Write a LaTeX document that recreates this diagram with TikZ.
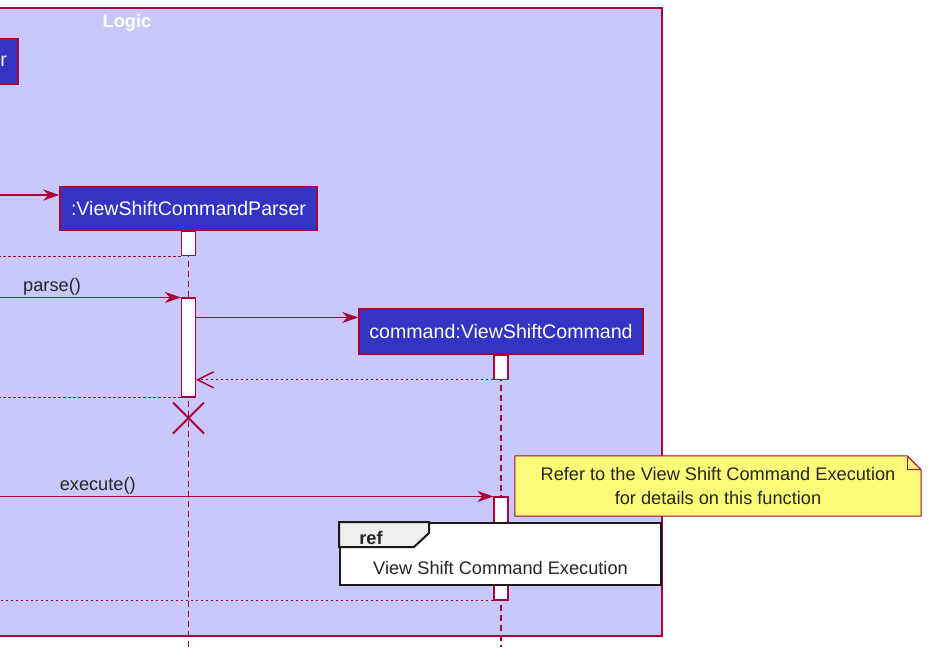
\documentclass[tikz,border=0pt]{standalone}
\usepackage{fontspec}
\setmainfont{Liberation Sans}
\usepackage{tikz}
\usetikzlibrary{positioning,arrows.meta,shapes.misc,backgrounds}
\definecolor{LogicFill}{HTML}{C8C8FA}
\definecolor{LogicBlue}{HTML}{3333C4}
\definecolor{SeqRed}{HTML}{A80036}
\definecolor{NoteYellow}{HTML}{FBFB77}
\definecolor{RefGrey}{HTML}{EEEEEE}

\begin{document}
\begin{tikzpicture}[
      x=1pt, y=-1pt,
      every node/.style={align=center, font=\fontsize{18.2}{24}\selectfont},
      participant/.style={draw=SeqRed, line width=1.4pt, fill=LogicBlue, text=white, inner sep=0pt, font=\fontsize{19.6}{24}\selectfont},
      actbar/.style={draw=SeqRed, line width=1.1pt, fill=white, minimum width=14pt, inner sep=0pt},
      lifeline/.style={SeqRed, line width=1.1pt, dash pattern=on 6pt off 4pt},
      call/.style={SeqRed, line width=1.3pt, -{Stealth[length=16pt, width=11pt, inset=5pt]}},
      reply/.style={SeqRed, line width=1pt, dash pattern=on 2.5pt off 2.5pt},
      replyarrow/.style={reply, -{Straight Barb[length=16pt, width=16pt, line width=1.4pt]}},
      msglabel/.style={above, inner sep=1.5pt, text=black!85},
      refbox/.style={draw=black!90, line width=2pt, fill=white, inner sep=0pt}
    ]
      \useasboundingbox (0,0) rectangle (941,656);
      \clip (0,0) rectangle (941,656);

      \coordinate (edge) at (-10,0);
      \coordinate (bottom) at (0,647);

      % Logic box
      \begin{scope}[on background layer]
        \draw[SeqRed, line width=1.5pt, fill=LogicFill] (-2,8) rectangle (662,636);
      \end{scope}
      \node[text=white, font=\bfseries\fontsize{18.2}{22}\selectfont] (logic) at (127,23) {Logic};

      \node[participant, anchor=east, minimum width=80pt, minimum height=46pt, text width=58pt, align=right] (abp) at (18.7,61.5) {r};
      \node[participant, minimum width=257pt, minimum height=44pt] (vsp) at (188.5,208.5) {:ViewShiftCommandParser};
      \node[participant, minimum width=284pt, minimum height=45pt] (cmd) at (501,331.5) {command:ViewShiftCommand};

      \draw[lifeline] (vsp.south) -- (vsp.south |- bottom);
      \draw[lifeline] (cmd.south) -- (cmd.south |- bottom);

      \node[actbar, minimum height=24pt, below=0pt of vsp] (pa1) {};
      \node[actbar, minimum height=99pt] (pa2) at (188.5,347.5) {};
      \node[actbar, minimum height=24pt, below=0pt of cmd] (ca1) {};
      \node[actbar, minimum height=103pt] (ca2) at (501,548.5) {};

      % messages
      \coordinate (m1) at (-10,195);
      \draw[call] (m1) -- (m1 -| vsp.west);
      \draw[reply] (pa1.south west) -- (pa1.south west -| edge);

      \coordinate (m2) at (pa2.north west -| edge);
      \draw[call] (m2) -- node[msglabel, pos=0.325] {parse()} (pa2.north west);
      \draw[call] ([yshift=-20pt]pa2.north east) -- ([yshift=-20pt]pa2.north east -| cmd.west);
      \draw[replyarrow] (ca1.south west) -- (ca1.south west -| pa2.east);
      \draw[reply] (pa2.south west) -- (pa2.south west -| edge);
      \node[draw=SeqRed, cross out, line width=2pt, minimum size=29pt, inner sep=0pt] (kill) at (188.5,418) {};

      \coordinate (m3) at (ca2.north west -| edge);
      \draw[call] (m3) -- node[msglabel, pos=0.214] {execute()} (ca2.north west);
      \draw[reply] (ca2.south west) -- (ca2.south west -| edge);

      % note
      \node[minimum width=406pt, minimum height=60pt, inner sep=0pt, text=black!85] (note) at (718,486) {Refer to the View Shift Command Execution\\for details on this function};
      \begin{scope}[on background layer]
        \draw[SeqRed, line width=1pt, fill=NoteYellow] (note.north west) -- ([xshift=-14pt]note.north east) -- ([yshift=-14pt]note.north east) -- (note.south east) -- (note.south west) -- cycle;
        \draw[SeqRed, line width=1pt] ([xshift=-14pt]note.north east) -- ([xshift=-14pt, yshift=-14pt]note.north east) -- ([yshift=-14pt]note.north east);
      \end{scope}

      % ref frame
      \node[refbox, minimum width=321pt, minimum height=62pt] (ref) at (500.5,554) {};
      \draw[black!90, line width=2pt, fill=RefGrey] (ref.north west) -- ++(90,0) -- ++(0,11) -- ++(-15,14) -- ++(-75,0) -- cycle;
      \node[font=\bfseries\fontsize{18.2}{22}\selectfont, text=black!85] (reftag) at (371,538) {ref};
      \node[text=black!85] (reftitle) at (500.5,568) {View Shift Command Execution};
    \end{tikzpicture}
\end{document}
